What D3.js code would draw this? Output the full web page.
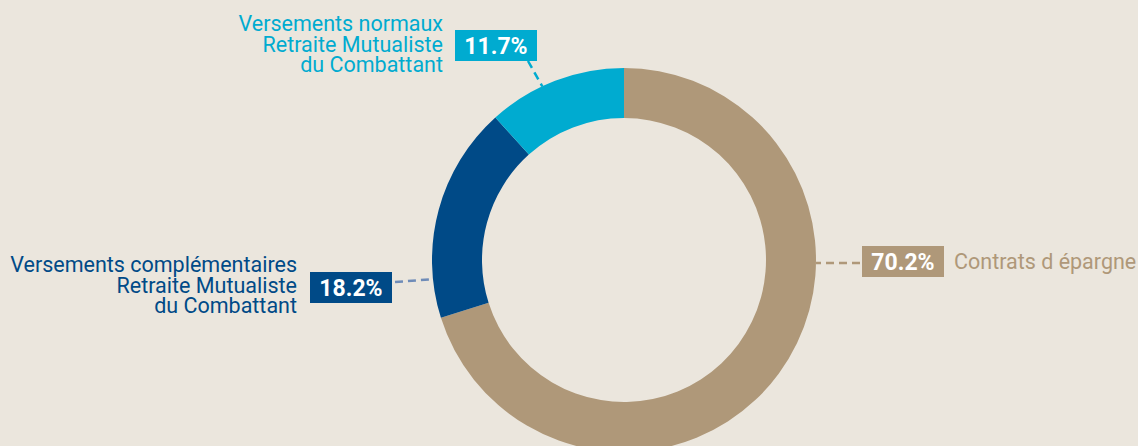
<!DOCTYPE html>
<html lang="fr">

<head>
    <meta charset="UTF-8">
    <title>Répartition des encours</title>
    <script src="https://d3js.org/d3.v7.min.js"></script>
    <style>
        body {
            margin: 0;
            background-color: #ebe6dd;
        }

        svg {
            display: block;
            background-color: #ebe6dd;
        }

        .name {
            font-family: Roboto, "DejaVu Sans", sans-serif;
            font-size: 21.5px;
        }

        .pct {
            font-family: Roboto, "DejaVu Sans", sans-serif;
            font-size: 23px;
            font-weight: bold;
            fill: #fff;
            text-anchor: middle;
        }
    </style>
</head>

<body>
    <svg width="1138" height="446"></svg>

    <script>
        // data, clockwise from 12 o'clock
        const categories = ["Contrats d épargne", "Versements complémentaires Retraite Mutualiste du Combattant", "Versements normaux Retraite Mutualiste du Combattant"];
        const values = [70.2, 18.2, 11.7];
        const pctLabels = ["70.2%", "18.2%", "11.7%"];
        const nameLines = [
            ["Contrats d épargne"],
            ["Versements complémentaires", "Retraite Mutualiste", "du Combattant"],
            ["Versements normaux", "Retraite Mutualiste", "du Combattant"]
        ];
        const colors = ["#af9879", "#004a87", "#00abd0"];
        const lineColors = ["#af9879", "#6f8cb8", "#00abd0"];

        // where each label box sits, and where its leader meets the ring (degrees)
        const layout = [
            { bx: 862, by: 246, anchorDeg: 90.9, side: "right", textX: 954, textY: 269 },
            { bx: 310, by: 272, anchorDeg: 264.3, side: "left", textX: 297, textY: 272 },
            { bx: 455, by: 30, anchorDeg: 334.8, side: "top", textX: 443, textY: 31 }
        ];

        const svg = d3.select("svg");
        const cx = 624, cy = 260;
        const innerR = 142, outerR = 192;
        const boxW = 82, boxH = 31;
        const lineH = 20.5;

        const pie = d3.pie().sort(null).value(d => d);
        const arc = d3.arc().innerRadius(innerR).outerRadius(outerR);

        const g = svg.append("g").attr("transform", `translate(${cx},${cy})`);

        g.selectAll("path")
            .data(pie(values))
            .enter()
            .append("path")
            .attr("d", arc)
            .attr("fill", (d, i) => colors[i]);

        // labels
        layout.forEach((l, i) => {
            const a = l.anchorDeg * Math.PI / 180;
            const ax = cx + outerR * Math.sin(a);
            const ay = cy - outerR * Math.cos(a);

            // leader line start on the box edge
            let sx, sy;
            if (l.side === "right") { sx = l.bx - 2; sy = ay; }
            else if (l.side === "left") { sx = l.bx + boxW + 3; sy = l.by + 10; }
            else { sx = l.bx + 73; sy = l.by + boxH; }

            svg.append("line")
                .attr("x1", sx).attr("y1", sy)
                .attr("x2", ax).attr("y2", ay)
                .attr("stroke", lineColors[i])
                .attr("stroke-width", 2.5)
                .attr("stroke-dasharray", "8,5");

            svg.append("rect")
                .attr("x", l.bx)
                .attr("y", l.by)
                .attr("width", boxW)
                .attr("height", boxH)
                .attr("fill", colors[i]);

            svg.append("text")
                .attr("class", "pct")
                .attr("x", l.bx + boxW / 2)
                .attr("y", l.by + 24)
                .text(pctLabels[i]);

            const t = svg.append("text")
                .attr("class", "name")
                .attr("fill", colors[i])
                .attr("text-anchor", l.side === "right" ? "start" : "end");

            nameLines[i].forEach((s, k) => {
                t.append("tspan")
                    .attr("x", l.textX)
                    .attr("y", l.textY + k * lineH)
                    .text(s);
            });
        });
    </script>
</body>

</html>
